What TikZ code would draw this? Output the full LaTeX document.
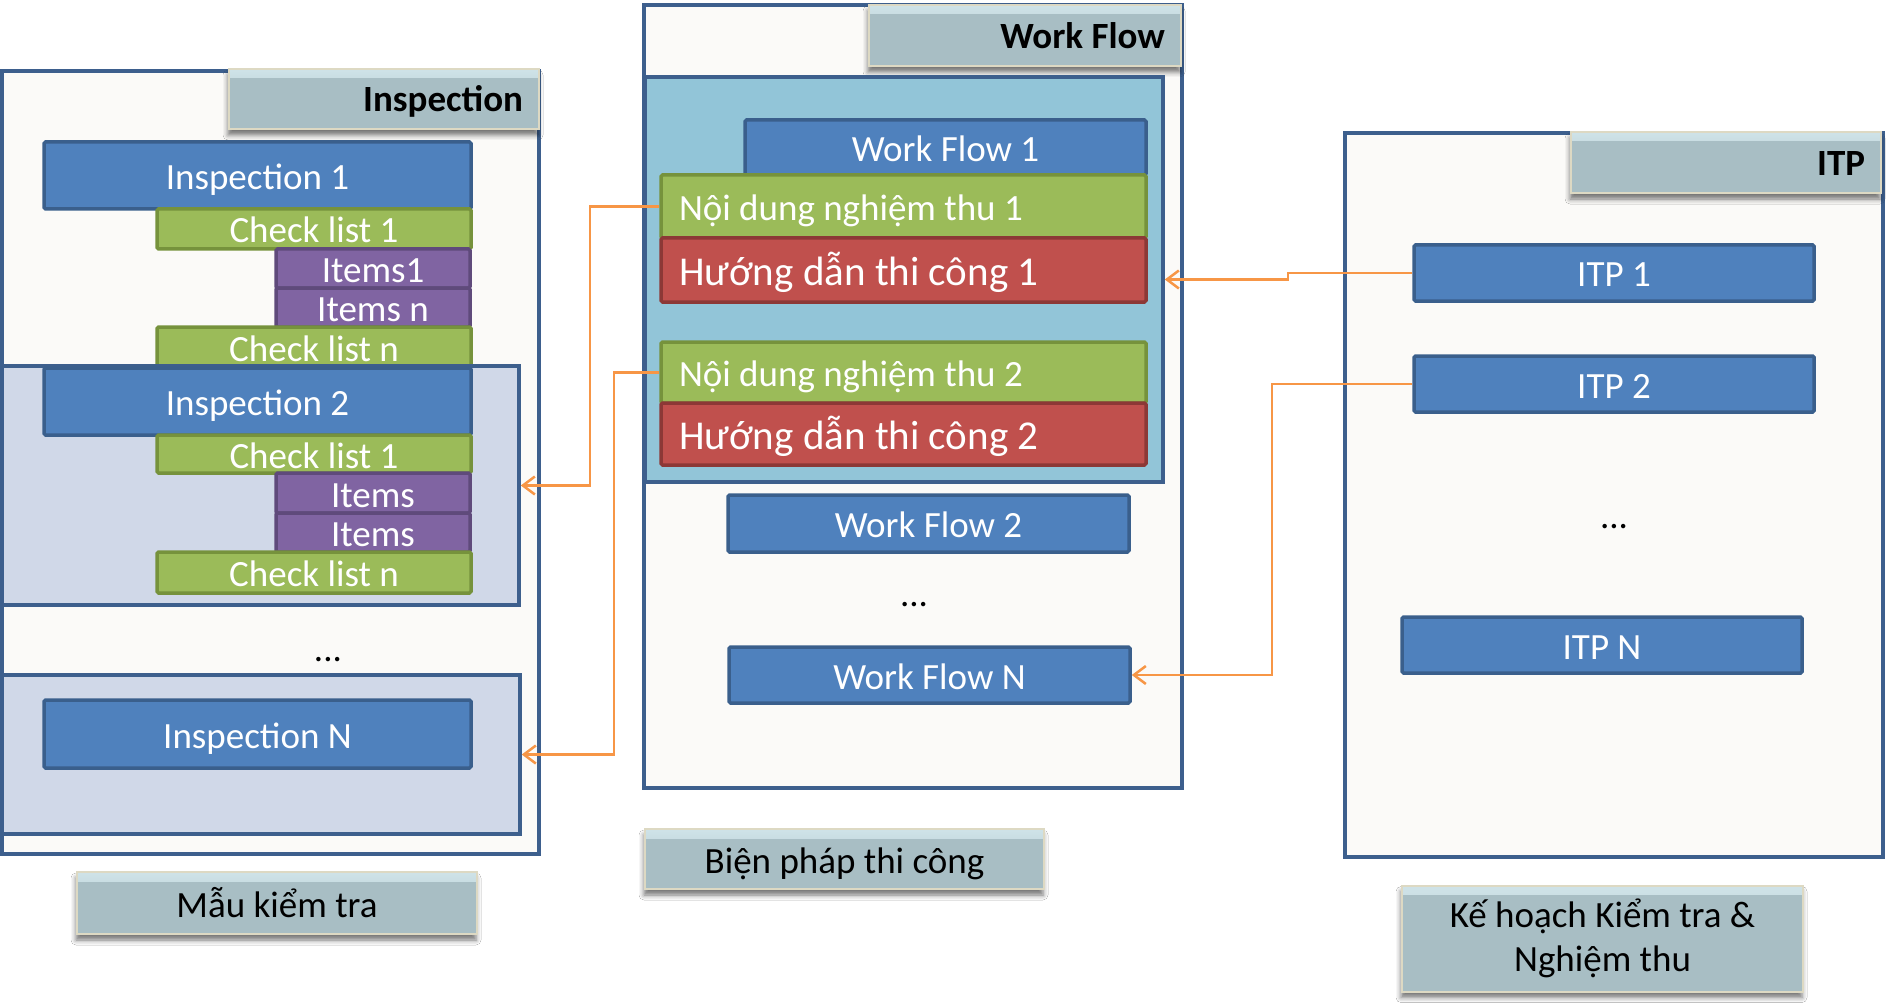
\documentclass[tikz,border=0pt]{standalone}
\usepackage{fontspec}
\setmainfont{Carlito}
\usetikzlibrary{arrows.meta,shadows.blur}
\definecolor{frame}{HTML}{3D5F8D}
\definecolor{paper}{HTML}{FBFAF8}
\definecolor{grpfill}{HTML}{D0D8E8}
\definecolor{wfgrp}{HTML}{92C5D8}
\definecolor{hdrfill}{HTML}{A8BEC4}
\definecolor{hdrtop}{HTML}{CFE3E8}
\definecolor{hdrline}{HTML}{DDD9C3}
\definecolor{bluefill}{HTML}{4F81BD}
\definecolor{blueline}{HTML}{3A5F8C}
\definecolor{greenfill}{HTML}{9BBB59}
\definecolor{greenline}{HTML}{76923C}
\definecolor{purplefill}{HTML}{8064A2}
\definecolor{purpleline}{HTML}{5F4A7B}
\definecolor{redfill}{HTML}{C0504D}
\definecolor{redline}{HTML}{8C3836}
\definecolor{orangeline}{HTML}{F79646}
\newcommand\fReg{\fontsize{37pt}{44pt}\selectfont}
\newcommand\fBig{\fontsize{41pt}{48pt}\selectfont}
\newcommand\fHdr{\fontsize{37pt}{44pt}\selectfont\bfseries}
\begin{document}
\begin{tikzpicture}[x=1pt,y=-1pt,
  sz/.style 2 args={minimum width=#1pt, minimum height=#2pt},
  outerbox/.style={draw=frame, line width=3.5pt, fill=paper, inner sep=0pt},
  grpbox/.style={draw=frame, line width=3.5pt, fill=grpfill, inner sep=0pt},
  wfbox/.style={draw=frame, line width=3.5pt, fill=wfgrp, inner sep=0pt},
  hdrbase/.style={fill=hdrfill, draw=hdrline, line width=2pt,
    blur shadow={shadow xshift=-1pt, shadow yshift=-6pt, shadow blur radius=5pt, shadow opacity=55},
    path picture={\fill[top color=hdrtop, bottom color=hdrfill]
      (path picture bounding box.north west) rectangle ([yshift=-9pt]path picture bounding box.north east);}},
  hdr/.style={hdrbase, font=\fHdr, text=black, align=flush right, inner xsep=16pt, inner ysep=0pt,
    text height=26pt, text depth=0pt},
  lbl/.style={hdrbase, font=\fReg, text=black, align=flush center, inner sep=0pt},
  colbox/.style={line width=3.5pt, rounded corners=1.5pt, text=white, font=\fReg, inner sep=0pt,
    text height=28pt, text depth=0pt},
  bluebox/.style={colbox, fill=bluefill, draw=blueline},
  greenbox/.style={colbox, fill=greenfill, draw=greenline},
  purplebox/.style={colbox, fill=purplefill, draw=purpleline},
  redbox/.style={colbox, fill=redfill, draw=redline, font=\fBig, text height=31pt},
  leftbox/.style={align=flush left, inner xsep=18pt, text width=449pt},
  dots/.style={font=\fReg, text=black, inner sep=0pt, anchor=base},
  conn/.style={draw=orangeline, line width=2.5pt,
    -{Straight Barb[length=12pt, width=18pt, line width=2.5pt]}}
]
\useasboundingbox (0,0) rectangle (1894,1008);
\fill[white] (0,0) rectangle (1894,1008);

% ---------------- left column: Inspection ----------------
\node[outerbox, sz={537}{783}] (insOuter) at (270.5,462.5) {};
\node[hdr, sz={310}{60}, text width=278pt] (insHdr) at (384,99) {Inspection};
\node[bluebox, sz={427}{67}] (ins1) at (257.5,175.5) {Inspection 1};
\node[greenbox, sz={314}{40}] (cl11) at (314,229) {Check list 1};
\node[purplebox, sz={194}{39}] (it11) at (373,268.5) {Items1};
\node[purplebox, sz={194}{39}] (it1n) at (373,307.5) {Items n};
\node[greenbox, sz={314}{40}] (cl1n) at (314,347) {Check list n};

\node[grpbox, sz={517}{239}] (grp2) at (260.5,485.5) {};
\node[bluebox, sz={427}{67}] (ins2) at (257.5,401.5) {Inspection 2};
\node[greenbox, sz={314}{38}] (cl21) at (314,454) {Check list 1};
\node[purplebox, sz={194}{40}] (it21) at (373,493) {Items};
\node[purplebox, sz={194}{39}] (it22) at (373,532.5) {Items};
\node[greenbox, sz={314}{41}] (cl2n) at (314,572.5) {Check list n};

\node[dots] (dotsL) at (328,661) {...};

\node[grpbox, sz={518}{159}] (grpN) at (261,754.5) {};
\node[bluebox, sz={427}{68}] (insN) at (257.5,734) {Inspection N};

\node[lbl, sz={400}{62}, text height=28pt, text depth=0pt] (lblIns) at (277,903) {Mẫu kiểm tra};

% ---------------- middle column: Work Flow ----------------
\node[outerbox, sz={538}{783}] (wfOuter) at (913,396.5) {};
\node[hdr, sz={312}{61}, text width=280pt] (wfHdr) at (1025,35.5) {Work Flow};
\node[wfbox, sz={518}{405}] (wfGrp) at (904,279.5) {};
\node[bluebox, sz={401}{55}] (wf1) at (945.5,147.5) {Work Flow 1};
\node[greenbox, leftbox, sz={485}{63}] (nd1) at (903.5,206.5) {Nội dung nghiệm thu 1};
\node[redbox, leftbox, sz={485}{64}] (hd1) at (903.5,270) {Hướng dẫn thi công 1};
\node[greenbox, leftbox, sz={485}{61}] (nd2) at (903.5,372.5) {Nội dung nghiệm thu 2};
\node[redbox, leftbox, sz={485}{62}] (hd2) at (903.5,434) {Hướng dẫn thi công 2};
\node[bluebox, sz={401}{57}] (wf2) at (928.5,523.5) {Work Flow 2};
\node[dots] (dotsM) at (914,606) {...};
\node[bluebox, sz={401}{56}] (wfN) at (929.5,675) {Work Flow N};

\node[lbl, sz={399}{60}, text height=28pt, text depth=0pt] (lblWF) at (844.5,859) {Biện pháp thi công};

% ---------------- right column: ITP ----------------
\node[outerbox, sz={538}{724}] (itpOuter) at (1614,495) {};
\node[hdr, sz={310}{61}, text width=278pt] (itpHdr) at (1726,162.5) {ITP};
\node[bluebox, sz={400}{56}] (itp1) at (1614,273) {ITP 1};
\node[bluebox, sz={400}{56}] (itp2) at (1614,384) {ITP 2};
\node[dots] (dotsR) at (1614,528) {...};
\node[bluebox, sz={400}{56}] (itpN) at (1602,645) {ITP N};

\node[lbl, sz={401}{106}, text width=390pt] (lblITP) at (1602.5,938.5) {Kế hoạch Kiểm tra \&\\ Nghiệm thu};

% ---------------- connectors ----------------
\coordinate (k1) at (590,0);
\coordinate (k2) at (614,0);
\coordinate (k3) at (1288,0);
\coordinate (k4) at (1272,0);
\draw[conn] (nd1.west) -- (nd1.west -| k1) |- (grp2.east);
\draw[conn] (nd2.west) -- (nd2.west -| k2) |- (grpN.east);
\draw[conn] (itp1.west) -- (itp1.west -| k3) -- (k3 |- wfGrp.east) -- (wfGrp.east);
\draw[conn] (itp2.west) -- (itp2.west -| k4) |- (wfN.east);
\end{tikzpicture}
\end{document}
